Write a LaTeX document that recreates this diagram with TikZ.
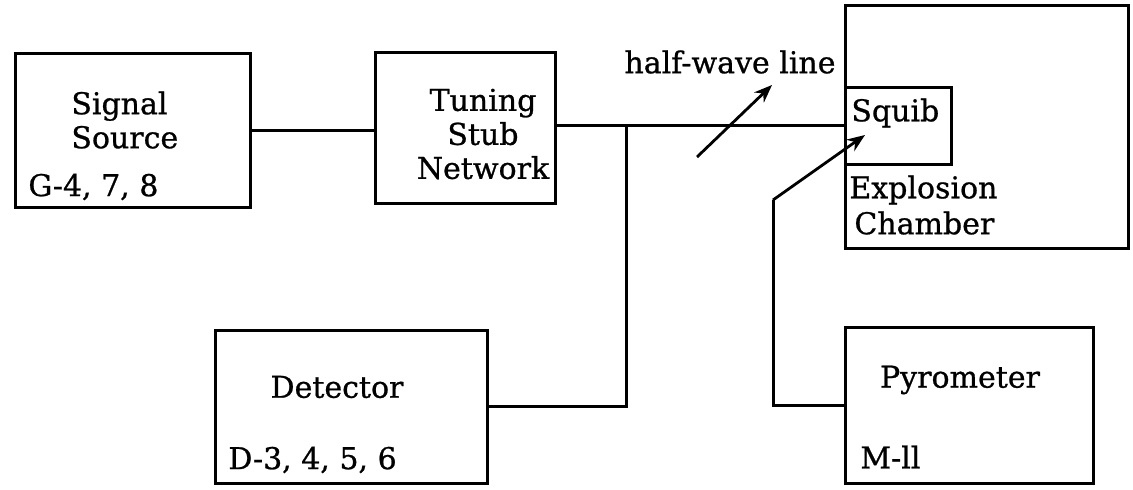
\documentclass[tikz,border=0pt]{standalone}
\usepackage{fontspec}
\setmainfont{DejaVu Serif}[FakeBold=0.8]
\usetikzlibrary{arrows.meta}
\begin{document}
\begin{tikzpicture}[x=0.5pt,y=-0.5pt,
  box/.style={draw, line width=1.5pt, rectangle, inner sep=0pt, outer sep=0pt},
  lbl/.style={inner sep=0pt, font=\fontsize{15}{17}\selectfont},
  wire/.style={line width=1.5pt},
  arr/.style={line width=1.4pt, -{Stealth[length=9pt,width=7pt]}}]
\useasboundingbox (0,0) rectangle (1133,489);
% boxes
\node[box, minimum width=117.5pt, minimum height=77pt] (src) at (132.5,130) {};
\node[box, minimum width=90pt, minimum height=75.5pt] (tun) at (465,127.5) {};
\node[box, minimum width=136pt, minimum height=76.5pt] (det) at (351,406.5) {};
\node[box, minimum width=141.5pt, minimum height=121.5pt] (ch) at (986.5,126.5) {};
\node[box, minimum width=53pt, minimum height=38.5pt] (sq) at (898,125.5) {};
\node[box, minimum width=124pt, minimum height=78pt] (pyr) at (969,405) {};
% texts
\node[lbl, align=left, anchor=west] (srct) at (71,120) {Signal\\Source};
\node[lbl, anchor=west] (srcn) at (28,187) {G-4, 7, 8};
\node[lbl, align=center] (tunt) at (483,134) {Tuning\\Stub\\Network};
\node[lbl] (dett) at (337,387) {Detector};
\node[lbl, anchor=west] (detn) at (228,460) {D-3, 4, 5, 6};
\node[lbl, anchor=west] (sqt) at (851,113) {Squib};
\node[lbl, anchor=west] (cht1) at (849,190) {Explosion};
\node[lbl, anchor=west] (cht2) at (854,223) {Chamber};
\node[lbl] (pyrt) at (960,380) {Pyrometer};
\node[lbl, anchor=west] (pyrn) at (860,457) {M-ll};
\node[lbl] (hw) at (730,62) {half-wave line};
% connectors
\draw[wire] (src.east) -- (src.east -| tun.west);
\draw[wire] (sq.west -| tun.east) -- (sq.west);
\coordinate (j) at (626,125.5);
\draw[wire] (j) |- (det.east);
\coordinate (bend) at (773,200);
\coordinate (tip) at (865,135);
\draw[wire] (pyr.west) -| (bend);
\draw[arr] (bend) -- (tip);
\coordinate (hw0) at (697,157);
\coordinate (hw1) at (772,85);
\draw[arr] (hw0) -- (hw1);
\end{tikzpicture}
\end{document}
